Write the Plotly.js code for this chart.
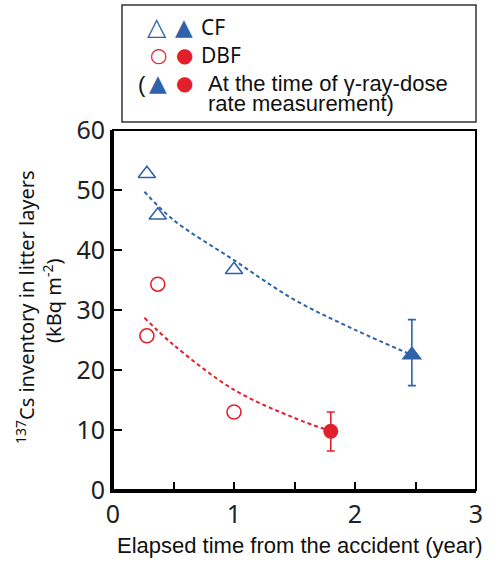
<!DOCTYPE html>
<html>
<head>
<meta charset="utf-8">
<script src="https://cdn.plot.ly/plotly-3.0.1.min.js"></script>
<style>
  body { margin: 0; background: #fff; }
  #chart { width: 500px; height: 571px; }
</style>
</head>
<body>
<div id="chart"></div>
<script>
// values
var cfYears = [0.28, 0.37, 1.0];
var cfInventory = [52.7, 45.8, 36.7];
var cfDoseYear = [2.47];
var cfDoseInventory = [22.5];
var cfDoseErrPlus = [5.9];
var cfDoseErrMinus = [5.1];

var dbfYears = [0.28, 0.37, 1.0];
var dbfInventory = [25.7, 34.3, 13.0];
var dbfDoseYear = [1.8];
var dbfDoseInventory = [9.8];
var dbfDoseErrPlus = [3.2];
var dbfDoseErrMinus = [3.3];

// dashed fitted curves
var cfFitX = [0.26, 0.5, 1.0, 1.5, 2.0, 2.47];
var cfFitY = [49.7, 45.0, 38.3, 31.7, 26.7, 22.5];
var dbfFitX = [0.26, 0.5, 1.0, 1.5, 1.8];
var dbfFitY = [28.7, 24.2, 16.7, 12.0, 9.8];

var xTicks = [0, 0.5, 1, 1.5, 2, 2.5, 3];
var xTickText = ["0", "", "1", "", "2", "", "3"];
var yTicks = [0, 10, 20, 30, 40, 50, 60];

var blue = "#2f62ad";
var red = "#e2202c";

// pixel helpers for the decoration (plot area is 113..476 x 130..490)
function px(x) { return (x - 113) / 363; }
function py(y) { return (490 - y) / 360; }

function note(x, y, text, font, extra) {
  var a = {xref: "paper", yref: "paper", x: px(x), y: py(y), text: text,
           xanchor: "center", yanchor: "middle", showarrow: false, font: font};
  for (var k in extra) a[k] = extra[k];
  return a;
}

var data = [
  {x: cfFitX, y: cfFitY, mode: "lines", line: {color: blue, width: 2, dash: "4px,3px", shape: "spline"}, hoverinfo: "skip"},
  {x: dbfFitX, y: dbfFitY, mode: "lines", line: {color: red, width: 2, dash: "4px,3px", shape: "spline"}, hoverinfo: "skip"},
  {x: cfYears, y: cfInventory, mode: "markers", name: "CF",
   marker: {symbol: "triangle-up-open", size: 15, color: blue, line: {width: 1.6}}},
  {x: dbfYears, y: dbfInventory, mode: "markers", name: "DBF",
   marker: {symbol: "circle-open", size: 14, color: red, line: {width: 1.6}}},
  {x: cfDoseYear, y: cfDoseInventory, mode: "markers",
   error_y: {type: "data", array: cfDoseErrPlus, arrayminus: cfDoseErrMinus, color: blue, thickness: 1.6, width: 4},
   marker: {symbol: "triangle-up", size: 18, color: blue}},
  {x: dbfDoseYear, y: dbfDoseInventory, mode: "markers",
   error_y: {type: "data", array: dbfDoseErrPlus, arrayminus: dbfDoseErrMinus, color: red, thickness: 1.6, width: 4},
   marker: {symbol: "circle", size: 15, color: red}}
];

var tickFont = {family: "Noto Sans", size: 25, color: "#222"};
var legFont = {family: "Noto Sans", size: 21, color: "#111"};
var armFont = {family: "Liberation Sans, Arial", size: 22, color: "#111"};
var titleFont = {family: "Noto Sans", size: 20, color: "#111"};
var blueOpen = {family: "DejaVu Sans", size: 25, color: blue};
var blueSym = {family: "DejaVu Sans", size: 23, color: blue};
var redSym = {family: "DejaVu Sans", size: 20, color: red};

var layout = {
  width: 500, height: 571,
  margin: {l: 113, r: 24, t: 130, b: 81},
  paper_bgcolor: "#fff", plot_bgcolor: "#fff",
  showlegend: false,
  xaxis: {
    range: [0, 3], tickvals: xTicks, ticktext: xTickText,
    ticks: "inside", ticklen: 8, tickwidth: 2, tickcolor: "#000",
    showline: true, linewidth: 3, linecolor: "#000",
    showgrid: false, zeroline: false, tickfont: tickFont
  },
  yaxis: {
    range: [0, 60], tickvals: yTicks,
    ticks: "inside", ticklen: 9, tickwidth: 2, tickcolor: "#000",
    showline: true, linewidth: 3, linecolor: "#000",
    showgrid: false, zeroline: false, tickfont: tickFont
  },
  shapes: [
    {type: "rect", xref: "paper", yref: "paper", x0: 0, x1: 1, y0: 0, y1: 1, line: {color: "#000", width: 2}},
    {type: "rect", xref: "paper", yref: "paper", x0: px(122), x1: px(476), y0: py(122), y1: py(5), line: {color: "#333", width: 1.5}}
  ],
  annotations: [
    note(300, 545, "Elapsed time from the accident (year)", {family: "Liberation Sans, Arial", size: 22, color: "#111"}),
    note(25, 307, "<sup>137</sup>Cs inventory in litter layers", titleFont, {textangle: -90}),
    note(52, 301, "(kBq m<sup>-2</sup>)", titleFont, {textangle: -90}),
    // legend
    note(157, 27, "△", blueOpen),
    note(184, 27, "▲", blueSym),
    note(199, 27, "CF", legFont, {xanchor: "left"}),
    note(158, 55, "○", redSym),
    note(184, 55, "●", redSym),
    note(199, 55, "DBF", legFont, {xanchor: "left"}),
    note(142, 84, "(", armFont),
    note(158, 83, "▲", blueSym),
    note(184, 83, "●", redSym),
    note(206, 83, "At the time of γ-ray-dose", armFont, {xanchor: "left"}),
    note(206, 103, "rate measurement)", armFont, {xanchor: "left"})
  ]
};

Plotly.newPlot("chart", data, layout, {displayModeBar: false, staticPlot: true});
</script>
</body>
</html>
